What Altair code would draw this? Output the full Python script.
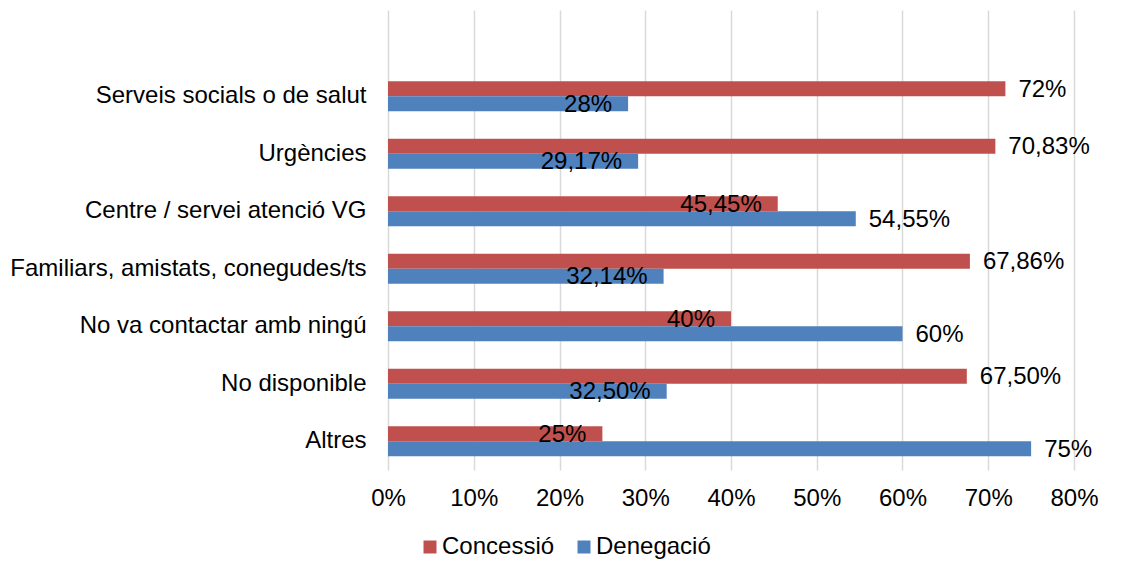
import altair as alt
import pandas as pd

categories = [
    "Serveis socials o de salut",
    "Urgències",
    "Centre / servei atenció VG",
    "Familiars, amistats, conegudes/ts",
    "No va contactar amb ningú",
    "No disponible",
    "Altres",
]
concessio = [72, 70.83, 45.45, 67.86, 40, 67.5, 25]
denegacio = [28, 29.17, 54.55, 32.14, 60, 32.5, 75]
concessio_labels = ["72%", "70,83%", "45,45%", "67,86%", "40%", "67,50%", "25%"]
denegacio_labels = ["28%", "29,17%", "54,55%", "32,14%", "60%", "32,50%", "75%"]
series = ["Concessió", "Denegació"]
colors = ["#C0504D", "#4F81BD"]

rows = []
for i, c in enumerate(categories):
    rows.append({"cat": c, "serie": series[0], "value": concessio[i] / 100, "label": concessio_labels[i]})
    rows.append({"cat": c, "serie": series[1], "value": denegacio[i] / 100, "label": denegacio_labels[i]})
df = pd.DataFrame(rows)

FONT = "Liberation Sans"
FS = 24

y_enc = alt.Y("cat:N", sort=None,
              scale=alt.Scale(domain=[" "] + categories, paddingInner=0.478, paddingOuter=0.239),
              axis=alt.Axis(title=None, ticks=False, domain=False, labelPadding=22,
                            labelFontSize=FS, labelFont=FONT, labelColor="#000000", labelLimit=500))
yoff = alt.YOffset("serie:N", scale=alt.Scale(domain=series))
x_enc = alt.X("value:Q", scale=alt.Scale(domain=[0, 0.8]),
              axis=alt.Axis(title=None, format=".0%", values=[i / 10 for i in range(9)],
                            ticks=False, domain=False, labelPadding=16, labelFontSize=FS,
                            labelFont=FONT, labelColor="#000000", gridColor="#D9D9D9", gridWidth=1.5,
                            labelOverlap=False, labelFlush=False))

base = alt.Chart(df)

bars = base.mark_bar().encode(
    y=y_enc, yOffset=yoff, x=x_enc,
    color=alt.Color("serie:N", scale=alt.Scale(domain=series, range=colors),
                    legend=alt.Legend(title=None, orient="none", direction="horizontal",
                                      legendX=30, legendY=525, symbolType="square",
                                      symbolSize=169, symbolStrokeWidth=0, labelFontSize=FS,
                                      labelFont=FONT, labelColor="#000000", labelOffset=0,
                                      columnPadding=17, padding=0)),
)

lab = base.transform_joinaggregate(maxv="max(value)", groupby=["cat"])

outside = lab.transform_filter("datum.value == datum.maxv").mark_text(
    align="left", baseline="middle", dx=13, dy=1, fontSize=FS, font=FONT, color="#000000"
).encode(y=alt.Y("cat:N", sort=None), yOffset=yoff, x="value:Q", text="label:N")

inside = lab.transform_filter("datum.value < datum.maxv").mark_text(
    align="right", baseline="middle", dx=-16, dy=1, fontSize=FS, font=FONT, color="#000000"
).encode(y=alt.Y("cat:N", sort=None), yOffset=yoff, x="value:Q", text="label:N")

chart = alt.layer(bars, outside, inside).properties(
    width=686, height=460,
    autosize=alt.AutoSizeParams(type="none"),
    padding={"left": 380, "top": 2, "right": 40, "bottom": 100},
).configure_view(stroke=None)

chart.save("out.html", embed_options={"renderer": "svg", "actions": False})
